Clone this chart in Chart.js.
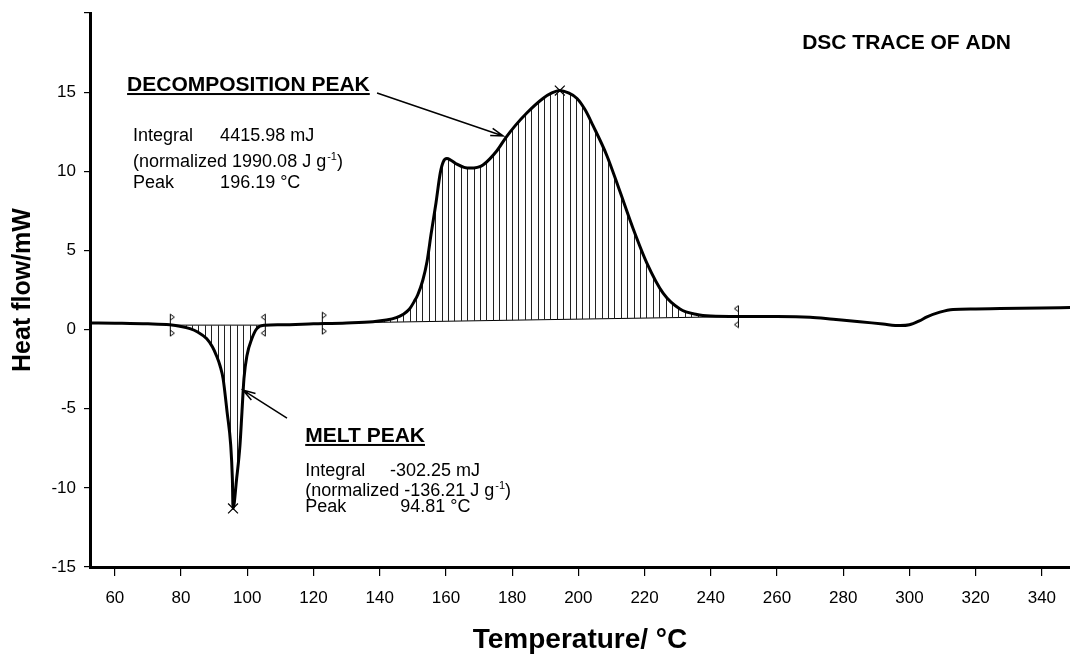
<!DOCTYPE html>
<html>
<head>
<meta charset="utf-8">
<script src="https://cdn.jsdelivr.net/npm/chart.js@4.4.0/dist/chart.umd.min.js"></script>
<style>
  html, body { margin: 0; padding: 0; background: #fff; }
  #chart { display: block; }
</style>
</head>
<body>
<canvas id="chart" width="1070" height="654"></canvas>
<script>
// DSC trace (°C / mW)
const temperature = [52.5, 60, 70, 76.6, 80, 82.7, 85, 87.7, 89.5, 90.7, 91.8, 92.7, 93.9, 95.0, 95.5, 95.7,
  96.8, 97.8, 98.4, 99.0, 99.9, 101.4, 102.9, 105.3, 110, 120, 130, 138, 142, 145, 147, 149, 150.5, 151.5,
  153, 154.3, 155.5, 157, 158.3, 159.2, 160.3, 161.5, 163.3, 165.5, 167.3, 169.5, 171.2, 175.4, 178, 181,
  184.5, 189.3, 192, 194.4, 197, 199.6, 202, 204.4, 208.6, 212.6, 216.5, 220.7, 225.6, 230.7, 235.8, 240,
  248.2, 260, 270, 277, 285, 292, 297.2, 300, 303, 305.3, 309.2, 313.2, 320, 327.4, 340, 348.5];
const heatFlow = [0.42, 0.40, 0.36, 0.30, 0.20, 0.06, -0.15, -0.57, -1.1, -1.65, -2.3, -3.1, -5.2, -7.3, -9.4, -11.3,
  -9.4, -7.3, -5.2, -3.1, -1.65, -0.57, 0.06, 0.27, 0.30, 0.36, 0.42, 0.50, 0.60, 0.75, 0.95, 1.3, 1.8, 2.2,
  3.1, 4.3, 6.0, 8.0, 9.9, 10.6, 10.8, 10.7, 10.45, 10.25, 10.2, 10.25, 10.4, 11.3, 12.1, 12.9,
  13.7, 14.6, 14.95, 15.1, 14.95, 14.6, 13.9, 12.9, 11.0, 8.7, 6.4, 4.2, 2.3, 1.3, 0.95, 0.85,
  0.82, 0.82, 0.78, 0.65, 0.5, 0.35, 0.25, 0.3, 0.55, 0.8, 1.1, 1.27, 1.3, 1.33, 1.37, 1.39];

// integration baselines (start / end of each peak)
const meltBaseT = [76.6, 105.3];
const meltBaseY = [0.28, 0.28];
const decompBaseT = [122.5, 248.2];
const decompBaseY = [0.40, 0.82];

// peak markers
const peakT = [95.7, 194.4];
const peakY = [-11.3, 15.1];

const xTicks = [60, 80, 100, 120, 140, 160, 180, 200, 220, 240, 260, 280, 300, 320, 340];
const yTicks = [-15, -10, -5, 0, 5, 10, 15, 20];

const chartTitle = "DSC TRACE OF ADN";
const decompText = ["DECOMPOSITION PEAK", "Integral", "4415.98 mJ", "(normalized 1990.08 J g", "Peak", "196.19 °C"];
const meltText = ["MELT PEAK", "Integral", "-302.25 mJ", "(normalized -136.21 J g", "Peak", "94.81 °C"];

const FONT = "'Liberation Sans', Arial, Helvetica, sans-serif";

const curve = temperature.map((t, i) => ({ x: t, y: heatFlow[i] }));
const baseline = [
  { x: meltBaseT[0], y: meltBaseY[0] }, { x: meltBaseT[1], y: meltBaseY[1] },
  { x: (meltBaseT[1] + decompBaseT[0]) / 2, y: null },
  { x: decompBaseT[0], y: decompBaseY[0] }, { x: decompBaseT[1], y: decompBaseY[1] }
];
const startMarks = [{ x: meltBaseT[0], y: meltBaseY[0] }, { x: decompBaseT[0], y: decompBaseY[0] }];
const endMarks = [{ x: meltBaseT[1], y: meltBaseY[1] }, { x: decompBaseT[1], y: decompBaseY[1] }];
const peaks = peakT.map((t, i) => ({ x: t, y: peakY[i] }));

// vertical hatching for the integrated areas
function hatchPattern() {
  const c = document.createElement("canvas");
  c.width = 32; c.height = 8;
  const g = c.getContext("2d");
  g.fillStyle = "#222";
  [0, 6, 13, 19, 26].forEach((x) => g.fillRect(x, 0, 1, 8));
  return g.createPattern(c, "repeat");
}

// little flag drawn at the integration limits
function flagImage(dir) {
  const c = document.createElement("canvas");
  c.width = 12; c.height = 24;
  const g = c.getContext("2d");
  g.strokeStyle = "#000";
  g.lineWidth = 1;
  g.beginPath(); g.moveTo(6.5, 1); g.lineTo(6.5, 23); g.stroke();
  const tri = (y0) => {
    g.beginPath();
    g.moveTo(6.5, y0);
    g.lineTo(6.5 + 4 * dir, y0 + 3);
    g.lineTo(6.5, y0 + 6);
    g.stroke();
  };
  tri(1); tri(17);
  return c;
}

function arrow(ctx, x0, y0, x1, y1) {
  const a = Math.atan2(y1 - y0, x1 - x0);
  ctx.beginPath();
  ctx.moveTo(x0, y0); ctx.lineTo(x1, y1);
  ctx.moveTo(x1 - 13 * Math.cos(a - 0.3), y1 - 13 * Math.sin(a - 0.3));
  ctx.lineTo(x1, y1);
  ctx.lineTo(x1 - 13 * Math.cos(a + 0.3), y1 - 13 * Math.sin(a + 0.3));
  ctx.stroke();
}

function peakBlock(ctx, sx, sy, lines, head, rows, col1, col2, col2b) {
  ctx.font = "bold 21px " + FONT;
  const hx = sx(head[0]), hy = sy(head[1]);
  ctx.fillText(lines[0], hx, hy);
  const w = ctx.measureText(lines[0]).width;
  ctx.fillRect(hx, hy + 2, w, 2);

  ctx.font = "18px " + FONT;
  ctx.fillText(lines[1], sx(col1), sy(rows[0]));
  ctx.fillText(lines[2], sx(col2), sy(rows[0]));
  const nx = sx(col1), ny = sy(rows[1]);
  ctx.fillText(lines[3], nx, ny);
  let nw = ctx.measureText(lines[3]).width;
  ctx.font = "11px " + FONT;
  ctx.fillText("-1", nx + nw + 1, ny - 7);
  nw += ctx.measureText("-1").width + 1;
  ctx.font = "18px " + FONT;
  ctx.fillText(")", nx + nw, ny);
  ctx.fillText(lines[4], sx(col1), sy(rows[2]));
  ctx.fillText(lines[5], sx(col2b), sy(rows[2]));
}

const notesPlugin = {
  id: "dscNotes",
  afterDraw(chart) {
    const { ctx, scales } = chart;
    const sx = (v) => scales.x.getPixelForValue(v);
    const sy = (v) => scales.y.getPixelForValue(v);
    ctx.save();
    ctx.fillStyle = "#000";
    ctx.strokeStyle = "#000";
    ctx.textBaseline = "alphabetic";
    ctx.textAlign = "left";

    ctx.font = "bold 21px " + FONT;
    ctx.fillText(chartTitle, sx(267.6), sy(17.73));

    peakBlock(ctx, sx, sy, decompText, [63.7, 15.07], [11.91, 10.27, 8.94], 65.5, 91.8, 91.8);
    peakBlock(ctx, sx, sy, meltText, [117.5, -7.10], [-9.25, -10.50, -11.50], 117.5, 143.1, 146.2);

    ctx.lineWidth = 1.5;
    arrow(ctx, sx(139.2), sy(14.95), sx(177.3), sy(12.23));
    arrow(ctx, sx(112.0), sy(-5.59), sx(98.7), sy(-3.82));
    ctx.restore();
  }
};

const ctx = document.getElementById("chart").getContext("2d");

new Chart(ctx, {
  type: "line",
  data: {
    datasets: [
      {
        label: "Heat flow",
        data: curve,
        borderColor: "#000",
        borderWidth: 3,
        pointRadius: 0,
        cubicInterpolationMode: "monotone",
        fill: { target: 1 },
        backgroundColor: hatchPattern(),
      },
      {
        label: "Baseline",
        data: baseline,
        borderColor: "#000",
        borderWidth: 1,
        pointRadius: 0,
        fill: false,
        spanGaps: false,
      },
      {
        label: "Peaks",
        data: peaks,
        showLine: false,
        pointStyle: "crossRot",
        pointRadius: 7,
        borderColor: "#000",
        borderWidth: 1.2,
      },
      {
        label: "Start",
        data: startMarks,
        showLine: false,
        pointStyle: flagImage(1),
        pointRadius: 5,
      },
      {
        label: "End",
        data: endMarks,
        showLine: false,
        pointStyle: flagImage(-1),
        pointRadius: 5,
      },
    ],
  },
  options: {
    responsive: false,
    animation: false,
    layout: { autoPadding: false, padding: { top: 13, left: 0, right: 0, bottom: 0 } },
    plugins: {
      legend: { display: false },
      tooltip: { enabled: false },
    },
    scales: {
      x: {
        type: "linear",
        min: 52.5,
        max: 348.5,
        afterBuildTicks: (s) => { s.ticks = xTicks.map((v) => ({ value: v })); },
        afterFit: (s) => {
          s.height = 87;
          s.paddingLeft = 0;
          s.paddingRight = 0;
        },
        border: { display: true, color: "#000", width: 3 },
        grid: { drawOnChartArea: false, drawTicks: true, tickLength: 9, color: "#000", lineWidth: 1.2 },
        ticks: { color: "#000", font: { family: FONT, size: 17 }, padding: 12, maxRotation: 0 },
        title: {
          display: true,
          text: "Temperature/ °C",
          color: "#000",
          font: { family: FONT, size: 28, weight: "bold", lineHeight: 1 },
          padding: { top: 0, bottom: 0 },
        },
      },
      y: {
        type: "linear",
        min: -15,
        max: 20,
        afterBuildTicks: (s) => { s.ticks = yTicks.map((v) => ({ value: v })); },
        afterFit: (s) => {
          s.width = 90;
          s.paddingTop = 0;
          s.paddingBottom = 0;
        },
        border: { display: true, color: "#000", width: 3 },
        grid: { drawOnChartArea: false, drawTicks: true, tickLength: 6, color: "#000", lineWidth: 1.2 },
        ticks: {
          color: "#000",
          font: { family: FONT, size: 17 },
          padding: 8,
          callback: (v) => (v === 20 ? "" : v),
        },
        title: {
          display: true,
          text: "Heat flow/mW",
          color: "#000",
          font: { family: FONT, size: 25, weight: "bold", lineHeight: 1 },
          padding: { top: 11, bottom: 0 },
        },
      },
    },
  },
  plugins: [notesPlugin],
});
</script>
</body>
</html>
